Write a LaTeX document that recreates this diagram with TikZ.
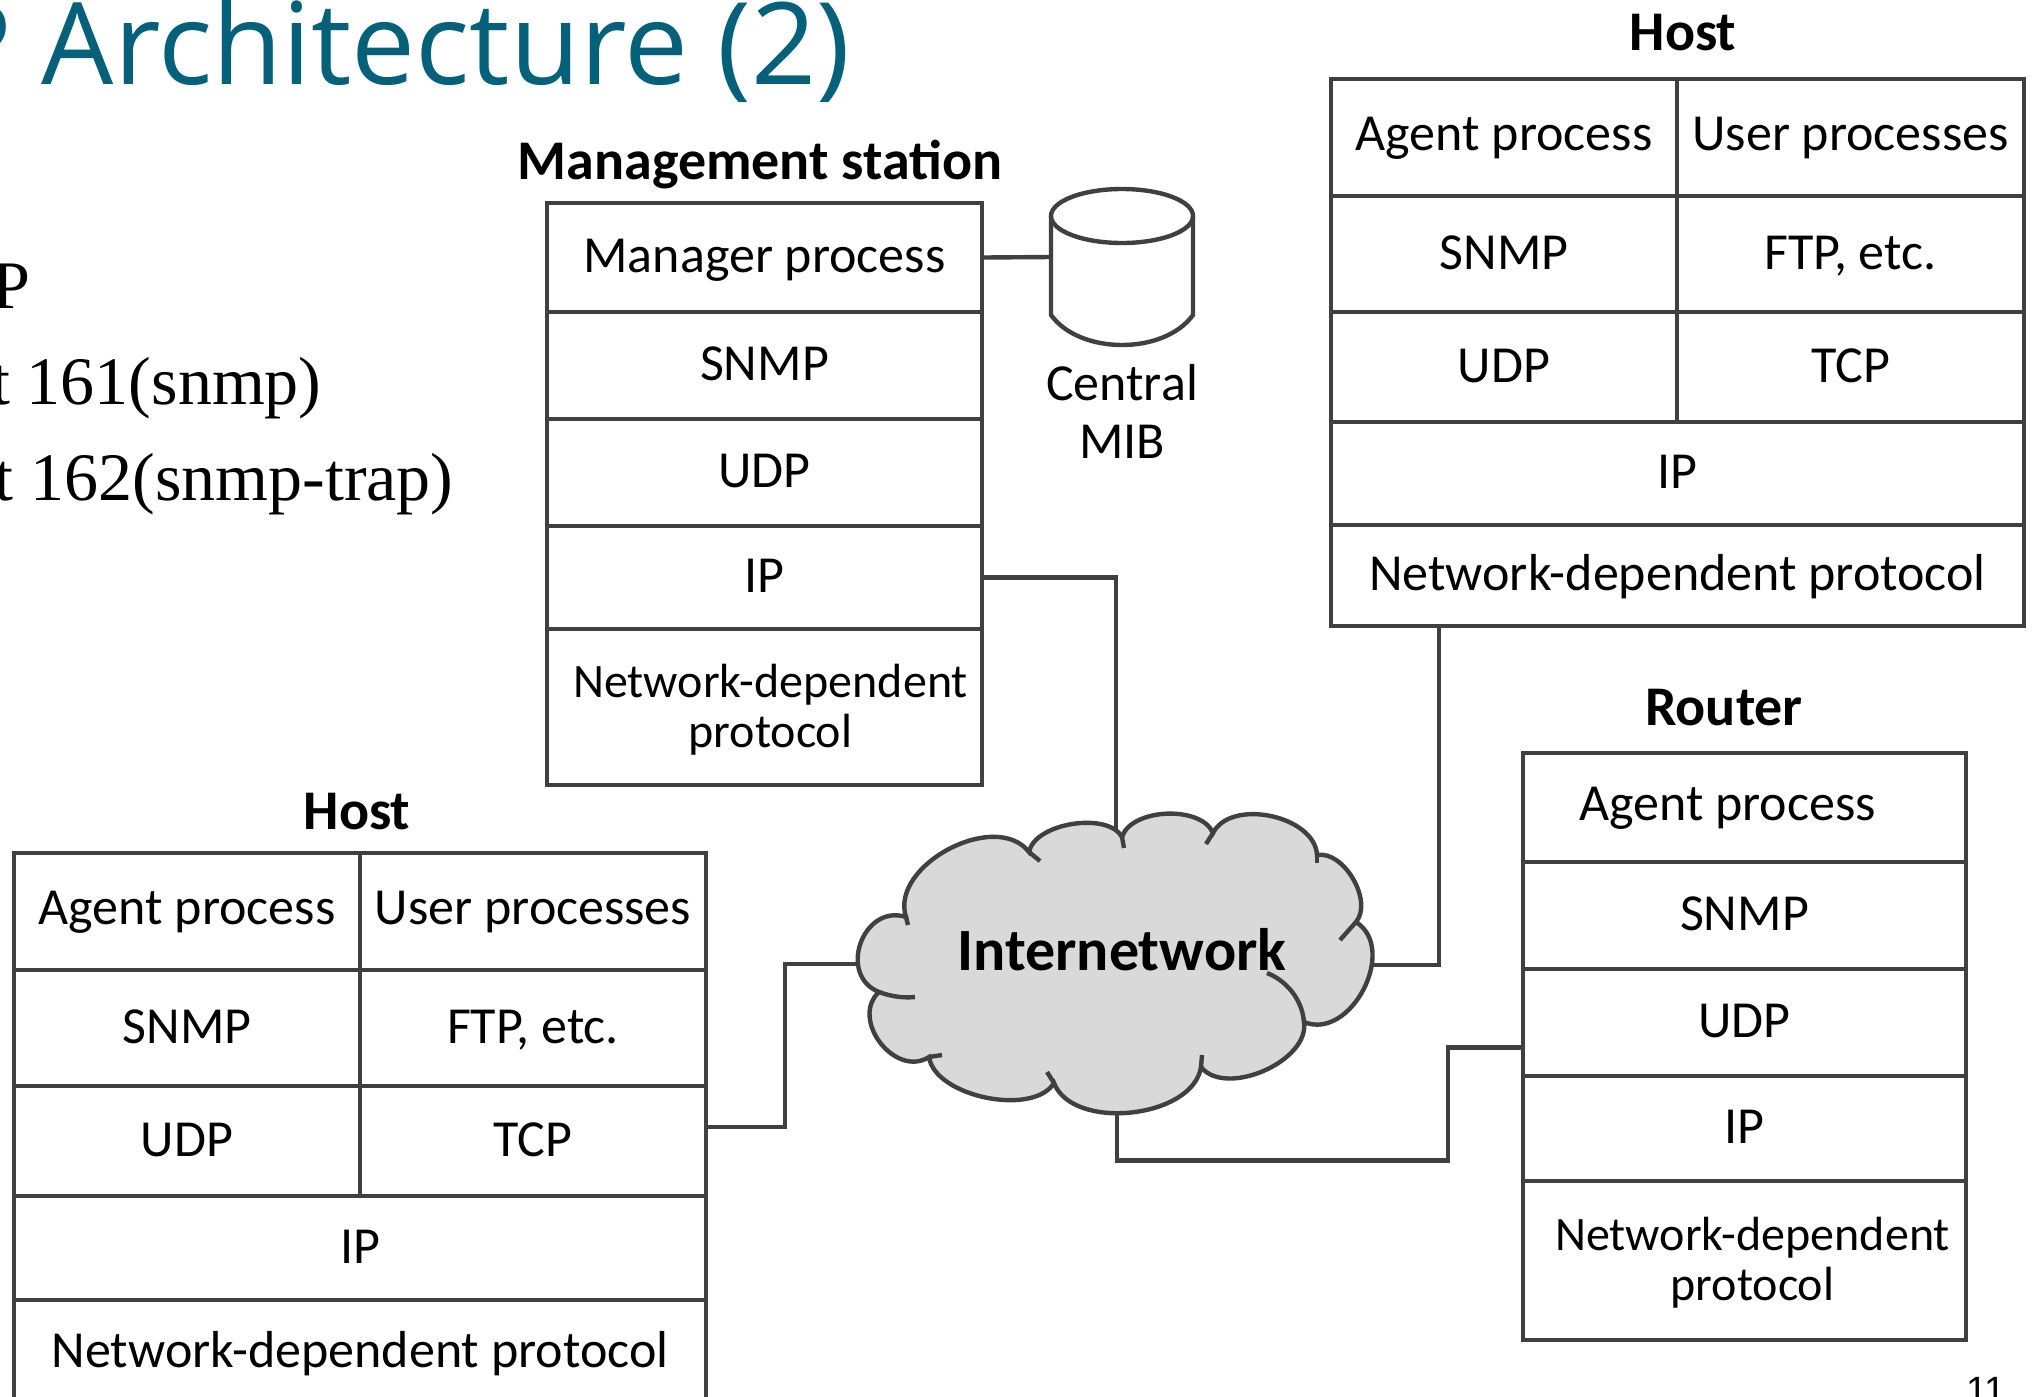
\documentclass[tikz,border=0pt]{standalone}
\usepackage{fontspec}
\usetikzlibrary{fit,calc}
\newfontfamily\cfont{Carlito}
\newfontfamily\tfont{Open Sans}
\newfontfamily\sfont{Liberation Serif}
\newfontfamily\nfont{Liberation Sans}
\definecolor{lc}{HTML}{404040}
\definecolor{tealt}{HTML}{05607A}
\definecolor{cloudgray}{HTML}{D9D9D9}
\begin{document}
\begin{tikzpicture}[x=0.5pt,y=-0.5pt,
  lcell/.style={draw=lc, line width=2.2pt, inner sep=0pt},
  ctext/.style={font=\cfont\fontsize{26}{30}\selectfont, anchor=base, inner sep=0pt, text=black},
  ctextn/.style={font=\cfont\fontsize{24}{28}\selectfont, anchor=base, inner sep=0pt, text=black},
  ttl/.style={font=\cfont\bfseries\fontsize{28}{32}\selectfont, anchor=base, inner sep=0pt},
  wire/.style={draw=lc, line width=2.2pt},
  serif/.style={font=\sfont\fontsize{34}{40}\selectfont, anchor=base east, inner sep=0pt},
]
\useasboundingbox (0,0) rectangle (2034,1397);
\fill[white] (0,0) rectangle (2034,1397);

% slide title and bullets (cut by the page edge, as in the reference)
\node[font=\tfont\fontsize{57}{60}\selectfont, text=tealt, anchor=base east, inner sep=0pt] (title) at (851,84) {P Architecture (2)};
\node[serif] (b1) at (31,308) {P};
\node[serif] (b2) at (322,404) {t 161(snmp)};
\node[serif] (b3) at (454,500) {t 162(snmp-trap)};
\node[font=\nfont\fontsize{19}{21}\selectfont, anchor=base east, inner sep=0pt] (pg) at (2006,1403) {11};

% Management station
\node[ttl] (mst) at (760,179) {Management station};
\node[lcell, fit={(547,203)(982,312)}] (msmgr) {};
\node[lcell, fit={(547,312)(982,419)}] (mssnmp) {};
\node[lcell, fit={(547,419)(982,526)}] (msudp) {};
\node[lcell, fit={(547,526)(982,629)}] (msip) {};
\node[lcell, fit={(547,629)(982,785)}] (msnet) {};
\node[ctext] (tmsmgr) at ([yshift=-7.5pt]msmgr.center) {Manager process};
\node[ctext] (tmssnmp) at ([yshift=-7.5pt]mssnmp.center) {SNMP};
\node[ctext] (tmsudp) at ([yshift=-7.5pt]msudp.center) {UDP};
\node[ctext] (tmsip) at ([yshift=-7.5pt]msip.center) {IP};
\node[ctextn] (tmsnet1) at ([xshift=3pt,yshift=5pt]msnet.center) {Network-dependent};
\node[ctextn] (tmsnet2) at ([xshift=3pt,yshift=-20pt]msnet.center) {protocol};

% Central MIB
\coordinate (dbw) at (1051,257);
\draw[wire] (1051,216) -- (1051,315) .. controls (1080,355) and (1164,355) .. (1193,315) -- (1193,216);
\draw[wire] (1122,216) ellipse [x radius=35.5pt, y radius=13.5pt];
\node[ctext] (mib1) at (1122,400) {Central};
\node[ctext] (mib2) at (1122,458) {MIB};
\draw[wire] (msmgr.east) -- (dbw);

% Host (top right)
\node[ttl] (h1t) at (1683,50) {Host};
\node[lcell, fit={(1331,79)(1677,196)}] (h1agent) {};
\node[lcell, fit={(1677,79)(2024,196)}] (h1user) {};
\node[lcell, fit={(1331,196)(1677,312)}] (h1snmp) {};
\node[lcell, fit={(1677,196)(2024,312)}] (h1ftp) {};
\node[lcell, fit={(1331,312)(1677,422)}] (h1udp) {};
\node[lcell, fit={(1677,312)(2024,422)}] (h1tcp) {};
\node[lcell, fit={(1331,422)(2024,525)}] (h1ip) {};
\node[lcell, fit={(1331,525)(2024,626)}] (h1net) {};
\node[ctext] at ([yshift=-6.5pt]h1agent.center) {Agent process};
\node[ctext] at ([yshift=-6.5pt]h1user.center) {User processes};
\node[ctext] at ([yshift=-7.5pt]h1snmp.center) {SNMP};
\node[ctext] at ([yshift=-7.5pt]h1ftp.center) {FTP, etc.};
\node[ctext] at ([yshift=-7.5pt]h1udp.center) {UDP};
\node[ctext] at ([yshift=-7.5pt]h1tcp.center) {TCP};
\node[ctext] at ([yshift=-7.5pt]h1ip.center) {IP};
\node[ctext] at ([yshift=-7.5pt]h1net.center) {Network-dependent protocol};

% Host (bottom left)
\node[ttl] (h2t) at (357,829) {Host};
\node[lcell, fit={(14,853)(360,970)}] (h2agent) {};
\node[lcell, fit={(360,853)(706,970)}] (h2user) {};
\node[lcell, fit={(14,970)(360,1086)}] (h2snmp) {};
\node[lcell, fit={(360,970)(706,1086)}] (h2ftp) {};
\node[lcell, fit={(14,1086)(360,1196)}] (h2udp) {};
\node[lcell, fit={(360,1086)(706,1196)}] (h2tcp) {};
\node[lcell, fit={(14,1196)(706,1300)}] (h2ip) {};
\node[lcell, fit={(14,1300)(706,1404)}] (h2net) {};
\node[ctext] at ([yshift=-6.5pt]h2agent.center) {Agent process};
\node[ctext] at ([yshift=-6.5pt]h2user.center) {User processes};
\node[ctext] at ([yshift=-7.5pt]h2snmp.center) {SNMP};
\node[ctext] at ([yshift=-7.5pt]h2ftp.center) {FTP, etc.};
\node[ctext] at ([yshift=-7.5pt]h2udp.center) {UDP};
\node[ctext] at ([yshift=-7.5pt]h2tcp.center) {TCP};
\node[ctext] at ([yshift=-7.5pt]h2ip.center) {IP};
\node[ctext] at ([yshift=-7.5pt]h2net.center) {Network-dependent protocol};

% Router
\node[ttl] (rt) at (1724,725) {Router};
\node[lcell, fit={(1523,753)(1966,862)}] (ragent) {};
\node[lcell, fit={(1523,862)(1966,969)}] (rsnmp) {};
\node[lcell, fit={(1523,969)(1966,1076)}] (rudp) {};
\node[lcell, fit={(1523,1076)(1966,1181)}] (rip) {};
\node[lcell, fit={(1523,1181)(1966,1340)}] (rnet) {};
\node[ctext] at ([xshift=-8.5pt,yshift=-6.5pt]ragent.center) {Agent process};
\node[ctext] at ([yshift=-7.5pt]rsnmp.center) {SNMP};
\node[ctext] at ([yshift=-7.5pt]rudp.center) {UDP};
\node[ctext] at ([yshift=-7.5pt]rip.center) {IP};
\node[ctextn] at ([xshift=4pt,yshift=5pt]rnet.center) {Network-dependent};
\node[ctextn] at ([xshift=4pt,yshift=-20pt]rnet.center) {protocol};

% cloud attachment points
\coordinate (ctop) at (1116,860);
\coordinate (cleft) at (862,964);
\coordinate (cright) at (1372,965);
\coordinate (cbot) at (1117,1100);

% connectors
\draw[wire] (msip.east) -| (ctop);
\draw[wire] ([xshift=55pt]h1net.south west) |- (cright);
\draw[wire] ([yshift=7pt]h2tcp.east) -- ++(77,0) |- (cleft);
\draw[wire] ([yshift=-12.5pt]rudp.west) -- ++(-73,0) -- ++(0,113) -| (cbot);

% Internetwork cloud
\coordinate (P1) at (906,917);
\coordinate (P2) at (1029,852);
\coordinate (P3) at (1122,837);
\coordinate (P4) at (1213,833);
\coordinate (P5) at (1317,855);
\coordinate (P6) at (1356,922);
\coordinate (P7) at (1304,1022);
\coordinate (P8) at (1201,1067);
\coordinate (P9) at (1054,1083);
\coordinate (P10) at (929,1057);
\coordinate (P11) at (879,992);
\draw[wire, fill=cloudgray]
  (P1) to[bend left=80, looseness=1.0] (P2)
  to[bend left=70, looseness=0.8] (P3)
  to[bend left=70, looseness=0.85] (P4)
  to[bend left=75, looseness=0.95] (P5)
  to[bend left=70, looseness=0.9] (P6)
  to[bend left=85, looseness=1.15] (P7)
  to[bend left=75, looseness=0.9] (P8)
  to[bend left=75, looseness=0.9] (P9)
  to[bend left=70, looseness=0.8] (P10)
  to[bend left=85, looseness=1.25] (P11)
  to[bend left=88, looseness=1.45] (P1) -- cycle;
\draw[wire] (P1) -- (908,925);
\draw[wire] (P2) -- (1040,861);
\draw[wire] (P3) -- (1124,848);
\draw[wire] (P4) -- (1206,844);
\draw[wire] (P5) -- (1317,863);
\draw[wire] (P6) -- (1340,940);
\draw[wire] (1267,973) .. controls (1285,980) and (1302,998) .. (P7);
\draw[wire] (P8) -- (1202,1055);
\draw[wire] (P9) -- (1047,1072);
\draw[wire] (P10) -- (942,1055);
\draw[wire] (P11) .. controls (892,997) and (905,998) .. (915,997);
\node[font=\cfont\bfseries\fontsize{30}{34}\selectfont, anchor=base, inner sep=0pt] (inet) at (1122,970) {Internetwork};
\end{tikzpicture}
\end{document}
